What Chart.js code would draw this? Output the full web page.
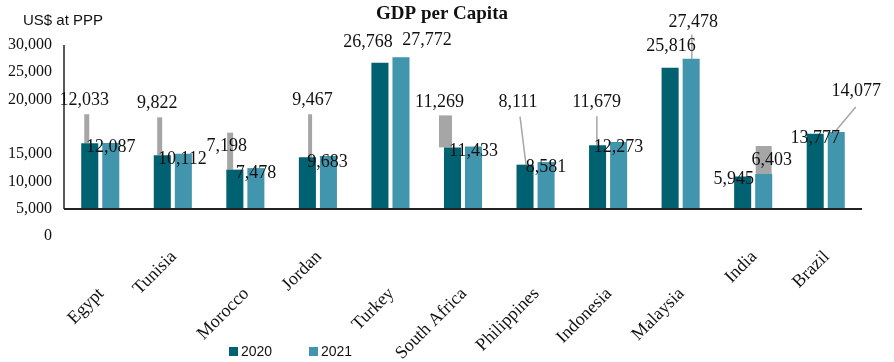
<!DOCTYPE html>
<html>
<head>
<meta charset="utf-8">
<script src="https://cdn.jsdelivr.net/npm/chart.js@4.4.0/dist/chart.umd.min.js"></script>
<style>
  html, body { margin: 0; padding: 0; background: #fff; }
</style>
</head>
<body>
<canvas id="grafico" width="894" height="362"></canvas>
<script>
const paises = ["Egypt", "Tunisia", "Morocco", "Jordan", "Turkey", "South Africa",
                "Philippines", "Indonesia", "Malaysia", "India", "Brazil"];
const gdp2020 = [12033, 9822, 7198, 9467, 26768, 11269, 8111, 11679, 25816, 5945, 13777];
const gdp2021 = [12087, 10112, 7478, 9683, 27772, 11433, 8581, 12273, 27478, 6403, 14077];
// rotulos do eixo y (de baixo para cima), um deles vazio como no original
const rotulosY = ["0", "5,000", "10,000", "15,000", "", "20,000", "25,000", "30,000"];

const corEscura = "#006170";
const corClara = "#4195ad";
const corGuia = "#a6a6a6";
const serif = "'Liberation Serif', 'Times New Roman', serif";
const sans = "'Liberation Sans', Arial, sans-serif";

// deslocamento dos rotulos de dados em relacao ao topo da barra [dx, dy]
const desloc2020 = [[-5.5,-43],[-5,-52],[-8,-23],[5,-57],[-12,-20],[-13,-45],[-7,-62],[-1,-43],[1,-22],[-9,3],[0,5]];
const desloc2021 = [[0,4],[-1,6],[0,5],[-1,6],[26,-17],[0,5],[0,5],[0,5],[2,-37],[8,-14],[20,-41]];

// linhas guia cinzas: [sx, sy, ex, largura] relativas a barra
const guias = {
    "0-0": [-3, -29, -3, 5],
    "0-1": [-2.6, -38, -2.6, 5],
    "0-2": [-4.7, -37, -4.7, 6],
    "0-3": [2.7, -43, 2.7, 4],
    "0-5": [-7, -32, -7, 13],
    "0-6": [-5, -48, 1, 1.5],
    "0-7": [-0.7, -29, -0.7, 1.5],
    "1-8": [0.7, -24, 0.7, 1.5],
    "1-9": [0, -28, 0, 16],
    "1-10": [19.5, -25, -1.5, 1.5]
};

// quais nomes de pais ficam mais altos
const nomeAlto = [false, true, false, true, false, false, false, false, false, true, true];

const textosPlugin = {
    id: "textos",
    beforeDatasetsDraw(chart) {
        const ctx = chart.ctx;
        ctx.save();
        ctx.strokeStyle = corGuia;
        ctx.lineCap = "butt";
        chart.data.datasets.forEach((ds, d) => {
            chart.getDatasetMeta(d).data.forEach((bar, i) => {
                const g = guias[d + "-" + i];
                if (!g) return;
                ctx.lineWidth = g[3];
                ctx.beginPath();
                ctx.moveTo(bar.x + g[0], bar.y + g[1]);
                ctx.lineTo(bar.x + g[2], bar.y);
                ctx.stroke();
            });
        });
        ctx.restore();
    },
    afterDatasetsDraw(chart) {
        const ctx = chart.ctx;
        const area = chart.chartArea;
        const y = chart.scales.y;
        const y0 = y.getPixelForValue(0);

        ctx.save();
        // eixos
        ctx.strokeStyle = "#222";
        ctx.lineWidth = 1.5;
        ctx.beginPath();
        ctx.moveTo(area.left, y.getPixelForValue(30000));
        ctx.lineTo(area.left, y0);
        ctx.stroke();
        ctx.lineWidth = 2;
        ctx.beginPath();
        ctx.moveTo(area.left, y0);
        ctx.lineTo(area.right, y0);
        ctx.stroke();

        // rotulos de dados
        ctx.fillStyle = "#111";
        ctx.font = "18px " + serif;
        ctx.textAlign = "center";
        ctx.textBaseline = "middle";
        const desl = [desloc2020, desloc2021];
        chart.data.datasets.forEach((ds, d) => {
            chart.getDatasetMeta(d).data.forEach((bar, i) => {
                const o = desl[d][i];
                ctx.fillText(ds.data[i].toLocaleString("en-US"), bar.x + o[0], bar.y + o[1]);
            });
        });
        ctx.restore();
    },
    afterDraw(chart) {
        const ctx = chart.ctx;
        const x = chart.scales.x;
        ctx.save();

        // titulo
        ctx.fillStyle = "#111";
        ctx.font = "bold 19px " + serif;
        ctx.textAlign = "center";
        ctx.textBaseline = "middle";
        ctx.fillText("GDP per Capita", 442, 14);

        // unidade
        ctx.font = "15px " + sans;
        ctx.textAlign = "left";
        ctx.fillText("US$ at PPP", 23, 21);

        // nomes dos paises, girados
        ctx.font = "18px " + serif;
        ctx.textAlign = "right";
        ctx.textBaseline = "middle";
        paises.forEach((p, i) => {
            const px = x.getPixelForTick(i);
            ctx.save();
            ctx.translate(px + 1, nomeAlto[i] ? 254 : 291);
            ctx.rotate(-Math.PI / 4);
            ctx.fillText(p, 0, 0);
            ctx.restore();
        });

        // legenda
        ctx.font = "14px " + sans;
        ctx.textAlign = "left";
        const leg = [[229, corEscura], [309, corClara]];
        chart.data.datasets.forEach((ds, d) => {
            ctx.fillStyle = leg[d][1];
            ctx.fillRect(leg[d][0], 347, 9, 9);
            ctx.fillStyle = "#111";
            ctx.fillText(ds.label, leg[d][0] + 12, 352);
        });
        ctx.restore();
    }
};

new Chart(document.getElementById("grafico"), {
    type: "bar",
    data: {
        labels: paises,
        datasets: [
            { label: "2020", data: gdp2020, backgroundColor: corEscura, borderWidth: 0 },
            { label: "2021", data: gdp2021, backgroundColor: corClara, borderWidth: 0 }
        ]
    },
    options: {
        responsive: false,
        animation: false,
        categoryPercentage: 0.58,
        barPercentage: 0.81,
        layout: { padding: { left: 0, right: 32, top: 45, bottom: 126 } },
        plugins: {
            legend: { display: false },
            title: { display: false },
            tooltip: { enabled: false }
        },
        scales: {
            x: { display: false },
            y: {
                display: false,
                min: -4939,
                max: 30000
            },
            y2: {
                position: "left",
                min: 0,
                max: rotulosY.length - 1,
                grid: { display: false, drawTicks: false },
                border: { display: false },
                ticks: {
                    stepSize: 1,
                    padding: 12,
                    color: "#111",
                    font: { family: serif, size: 16 },
                    callback: (v) => rotulosY[v]
                },
                afterFit: (s) => { s.width = 64; }
            }
        }
    },
    plugins: [textosPlugin]
});
</script>
</body>
</html>
